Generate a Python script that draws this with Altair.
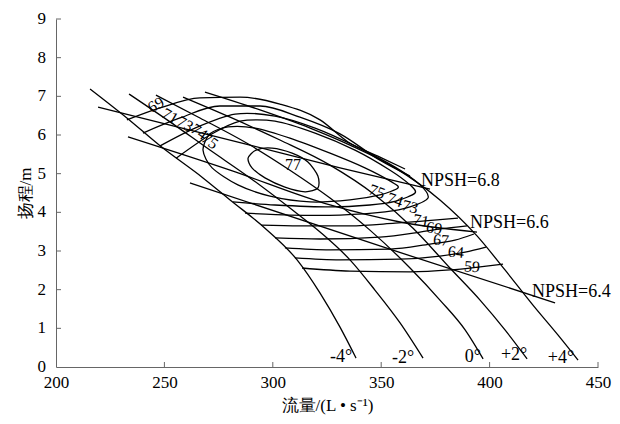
import altair as alt
import pandas as pd

# ---------------- blade-angle Q-H curves ----------------
blade_names = ["-4°", "-2°", "0°", "+2°", "+4°"]
q_m4 = [215.7, 232.7, 248.0, 267.8, 280.3, 296.4, 311.2, 321.8, 331.0, 338.4]
h_m4 = [7.19, 6.44, 5.72, 4.89, 4.32, 3.59, 2.77, 1.91, 1.03, 0.23]
q_m2 = [233.7, 252.6, 271.0, 289.5, 307.9, 321.8, 335.6, 347.1, 358.7, 369.3]
h_m2 = [7.06, 6.34, 5.61, 4.89, 4.11, 3.49, 2.77, 1.99, 1.14, 0.23]
q_0 = [246.1, 266.4, 289.5, 307.9, 326.4, 344.8, 363.3, 377.1, 388.7, 397.0]
h_0 = [7.03, 6.44, 5.74, 5.09, 4.37, 3.54, 2.56, 1.73, 0.96, 0.21]
q_p2 = [258.6, 280.3, 303.3, 326.4, 347.1, 364.7, 381.7, 395.6, 407.1, 417.3]
h_p2 = [6.98, 6.46, 5.87, 5.22, 4.45, 3.59, 2.56, 1.73, 0.96, 0.21]
q_p4 = [268.7, 294.1, 317.2, 335.6, 356.4, 377.1, 394.2, 407.1, 420.0, 431.5, 440.8]
h_p4 = [7.11, 6.65, 6.18, 5.74, 5.15, 4.32, 3.39, 2.51, 1.60, 0.83, 0.18]

# ---------------- NPSH lines ----------------
q_n68 = [219.4, 289.5, 331.0, 372.5]
h_n68 = [6.72, 5.74, 5.15, 4.60]
q_n66 = [233.2, 280.3, 326.4, 358.7, 394.2]
h_n66 = [5.95, 5.09, 4.19, 3.75, 3.49]
q_n64 = [261.8, 349.4, 430.2]
h_n64 = [4.76, 3.13, 1.66]

# ---------------- efficiency contours (open) ----------------
q_e59 = [313.5, 335.6, 363.3, 381.7, 395.6, 406.2]
h_e59 = [2.56, 2.48, 2.46, 2.51, 2.59, 2.66]
q_e64 = [310.2, 331.0, 358.7, 377.1, 388.7, 398.3]
h_e64 = [2.82, 2.77, 2.79, 2.87, 2.97, 3.10]
q_e67 = [305.6, 326.4, 354.1, 372.5, 384.0, 392.8]
h_e67 = [3.08, 3.03, 3.05, 3.18, 3.28, 3.44]
q_e69a = [301.0, 321.8, 349.4, 367.9, 377.1, 389.6]
h_e69a = [3.34, 3.31, 3.36, 3.49, 3.57, 3.65]
q_e71a = [294.6, 312.5, 335.6, 356.4, 370.2, 385.4]
h_e71a = [3.67, 3.65, 3.65, 3.72, 3.78, 3.85]
q_e69b = [232.7, 248.0, 266.4, 284.9, 303.3, 321.8, 334.7, 349.4, 361.0]
h_e69b = [6.39, 6.70, 6.96, 6.98, 6.80, 6.39, 5.82, 5.43, 5.12]
q_e71b = [240.1, 257.2, 275.6, 294.1, 312.5, 331.0, 349.4, 363.3]
h_e71b = [6.05, 6.44, 6.75, 6.75, 6.46, 6.03, 5.35, 4.94]
# hairpin contours
q_e73 = [248.0, 264.1, 282.6, 301.0, 319.5, 337.9, 356.4, 367.9, 371.6, 363.3, 351.8, 331.0, 307.9, 287.2]
h_e73 = [5.72, 6.18, 6.54, 6.49, 6.18, 5.72, 5.17, 4.71, 4.37, 4.14, 4.01, 3.93, 3.93, 3.98]
q_e74 = [255.4, 271.0, 284.9, 301.0, 319.5, 337.9, 354.1, 363.3, 365.6, 356.8, 344.8, 326.4, 301.0, 281.6]
h_e74 = [5.40, 6.00, 6.36, 6.36, 6.05, 5.61, 5.09, 4.71, 4.50, 4.29, 4.19, 4.14, 4.19, 4.27]
# closed contours
q_e75 = [267.8, 271.0, 279.3, 291.8, 307.9, 326.4, 342.5, 355.0, 357.7, 349.4, 335.6, 317.2, 298.7, 283.9, 272.0]
h_e75 = [5.61, 6.03, 6.21, 6.18, 5.92, 5.53, 5.15, 4.78, 4.63, 4.45, 4.32, 4.27, 4.42, 4.71, 5.15]
q_e77 = [288.6, 292.3, 299.6, 308.9, 316.2, 320.8, 320.8, 314.9, 305.6, 296.4, 290.4]
h_e77 = [5.40, 5.61, 5.66, 5.53, 5.30, 4.94, 4.63, 4.53, 4.65, 4.89, 5.15]

# ---------------- labels ----------------
blade_lab_q = [331.5, 360.1, 392.3, 411.3, 432.9]
blade_lab_h = [0.26, 0.23, 0.26, 0.31, 0.23]
npsh_lab_text = ["NPSH=6.8", "NPSH=6.6", "NPSH=6.4"]
npsh_lab_q = [368.4, 391.0, 419.6]
npsh_lab_h = [4.81, 3.72, 1.94]
eff_lab_text = ["75", "74", "73", "71", "69", "67", "64", "59",
                "69", "71", "73", "74", "75", "77"]
eff_lab_q = [348.1, 356.4, 363.3, 368.4, 374.4, 377.6, 384.5, 391.9,
             246.1, 252.6, 259.5, 266.0, 271.0, 309.3]
eff_lab_h = [4.53, 4.32, 4.14, 3.78, 3.59, 3.28, 2.97, 2.59,
             6.78, 6.49, 6.28, 6.08, 5.84, 5.22]
eff_lab_ang = [20, 20, 15, 10, 8, 5, 5, 5,
               330, 30, 30, 35, 35, 0]

x_ticks = [200, 250, 300, 350, 400, 450]
y_ticks = [0, 1, 2, 3, 4, 5, 6, 7, 8, 9]
y_tick_text = ["0", "1", "2", "3", "4", "5", "6", "7", "8", "9"]

LATIN = "Liberation Serif"


def frame(groups):
    rows = []
    for name, qs, hs in groups:
        for i, (q, h) in enumerate(zip(qs, hs)):
            rows.append({"name": name, "q": q, "h": h, "idx": i})
    return pd.DataFrame(rows)


smooth_df = frame([
    ("b-4", q_m4, h_m4), ("b-2", q_m2, h_m2), ("b0", q_0, h_0),
    ("b+2", q_p2, h_p2), ("b+4", q_p4, h_p4),
    ("n68", q_n68, h_n68), ("n66", q_n66, h_n66), ("n64", q_n64, h_n64),
    ("e59", q_e59, h_e59), ("e64", q_e64, h_e64), ("e67", q_e67, h_e67),
    ("e69a", q_e69a, h_e69a), ("e71a", q_e71a, h_e71a),
    ("e69b", q_e69b, h_e69b), ("e71b", q_e71b, h_e71b),
])
hair_df = frame([("e73", q_e73, h_e73), ("e74", q_e74, h_e74)])
loop_df = frame([("e75", q_e75, h_e75), ("e77", q_e77, h_e77)])

xs = alt.Scale(domain=[200, 450], nice=False, zero=False)
ys = alt.Scale(domain=[0, 9], nice=False, zero=False)

x_axis = alt.Axis(values=x_ticks, title="流量/(L • s⁻¹)", titlePadding=7,
                  labelPadding=7, labelFont=LATIN, labelFontSize=17,
                  labelOverlap=False)
y_axis = alt.Axis(values=y_ticks, title="扬程/m", titlePadding=21,
                  labels=False)

base_lines = alt.Chart(smooth_df).mark_line(
    interpolate="monotone", color="black", strokeWidth=1.3
).encode(
    x=alt.X("q:Q", scale=xs, axis=x_axis),
    y=alt.Y("h:Q", scale=ys, axis=y_axis),
    detail="name:N",
    order="idx:Q",
)

hair_lines = alt.Chart(hair_df).mark_line(
    interpolate="cardinal", tension=0.2, color="black", strokeWidth=1.3
).encode(x="q:Q", y="h:Q", detail="name:N", order="idx:Q")

loop_lines = alt.Chart(loop_df).mark_line(
    interpolate="cardinal-closed", tension=0.2, color="black", strokeWidth=1.3
).encode(x="q:Q", y="h:Q", detail="name:N", order="idx:Q")

ytick_df = pd.DataFrame({"h": y_ticks[1:]})
ytick_layer = alt.Chart(ytick_df).mark_rule(color="#666", strokeWidth=1).encode(
    y="h:Q", x=alt.value(0), x2=alt.value(5))
xtick_df = pd.DataFrame({"q": x_ticks[1:]})
xtick_layer = alt.Chart(xtick_df).mark_rule(color="#666", strokeWidth=1).encode(
    x="q:Q", y=alt.value(348), y2=alt.value(343))

ylab_layer = alt.Chart(pd.DataFrame({"h": y_ticks, "t": y_tick_text})).mark_text(
    font=LATIN, fontSize=17, color="black", align="right", baseline="middle"
).encode(y="h:Q", x=alt.value(-10), text="t:N")

blade_lab = alt.Chart(pd.DataFrame({"t": blade_names, "q": blade_lab_q, "h": blade_lab_h})).mark_text(
    font=LATIN, fontSize=18, color="black", align="center", baseline="middle"
).encode(x="q:Q", y="h:Q", text="t:N")

npsh_lab = alt.Chart(pd.DataFrame({"t": npsh_lab_text, "q": npsh_lab_q, "h": npsh_lab_h})).mark_text(
    font=LATIN, fontSize=18, color="black", align="left", baseline="middle"
).encode(x="q:Q", y="h:Q", text="t:N")

eff_lab = alt.Chart(pd.DataFrame({"t": eff_lab_text, "q": eff_lab_q, "h": eff_lab_h,
                                  "a": eff_lab_ang})).mark_text(
    font=LATIN, fontSize=16, color="black", align="center", baseline="middle"
).encode(x="q:Q", y="h:Q", text="t:N", angle=alt.Angle("a:Q", scale=None))

chart = alt.layer(
    base_lines, hair_lines, loop_lines, ytick_layer, xtick_layer, ylab_layer,
    blade_lab, npsh_lab, eff_lab
).properties(
    width=542, height=348,
    autosize=alt.AutoSizeParams(type="none"),
    padding={"left": 48, "top": 11, "right": 14, "bottom": 49},
    background="white",
).configure(
    font=LATIN
).configure_axis(
    tickSize=0, grid=False, domainColor="#666", domainWidth=1,
    labelFont=LATIN, labelFontSize=17, labelColor="black",
    titleFont=LATIN, titleFontSize=17, titleFontWeight="normal",
    titleColor="black", labelFlush=False, labelOverlap=False,
).configure_text(font=LATIN).configure_view(strokeWidth=0)

chart.save("out.html", embed_options={"renderer": "svg", "actions": False})
